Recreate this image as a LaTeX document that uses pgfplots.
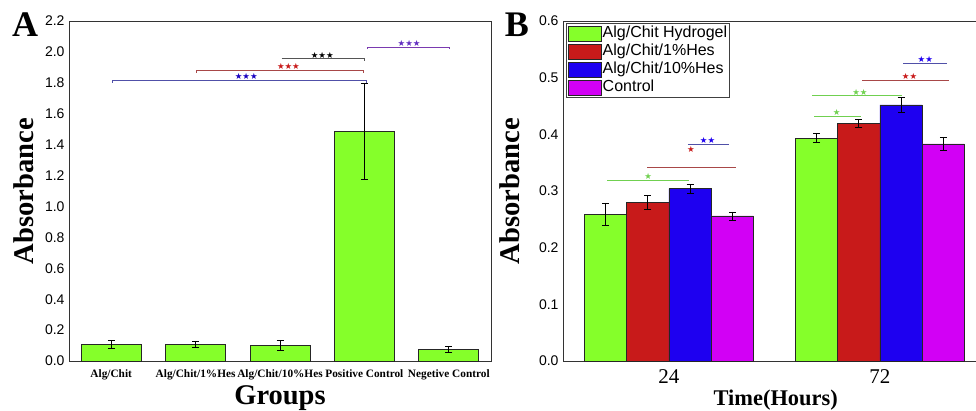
\documentclass[border=0pt]{standalone}
\usepackage{pgfplots}
\pgfplotsset{compat=1.18}
\usepackage{fontspec}
\setmainfont{Liberation Serif}
\setsansfont{Liberation Sans}
\newfontfamily\dejavu{DejaVu Sans}
\definecolor{cgreen}{HTML}{85FF2A}
\definecolor{cred}{HTML}{C81A1A}
\definecolor{cblue}{HTML}{1E00F0}
\definecolor{cmag}{HTML}{D200F5}
\definecolor{lblue}{HTML}{5050A8}
\definecolor{lred}{HTML}{A84848}
\definecolor{lgray}{HTML}{555555}
\definecolor{lpurple}{HTML}{7A3AB0}
\definecolor{lgreen}{HTML}{70D050}
\newcommand{\stars}[1]{{\dejavu\fontsize{8.5}{8.5}\selectfont #1}}
\pgfplotsset{errb/.style={error bars/.cd, y dir=both, y explicit,
  error bar style={line width=0.8pt, black},
  error mark options={rotate=90, line width=0.8pt, black, mark size=3.5pt}}}
\begin{document}
\begin{tikzpicture}
% ---------- Panel A ----------
\begin{axis}[
  at={(0pt,0pt)}, anchor=south west,
  scale only axis, width=422pt, height=340pt,
  xmin=-0.5, xmax=4.5, ymin=0, ymax=2.2,
  ytick={0,0.2,0.4,0.6,0.8,1.0,1.2,1.4,1.6,1.8,2.0,2.2},
  yticklabel style={/pgf/number format/fixed,/pgf/number format/precision=1,/pgf/number format/fixed zerofill,/pgf/number format/assume math mode=true,font=\sffamily\fontsize{14}{14}\selectfont, xshift=-1pt},
  xtick={0,1,2,3,4},
  xticklabels={Alg/Chit, Alg/Chit/1\%Hes, Alg/Chit/10\%Hes, Positive Control, Negetive Control},
  xticklabel style={font=\bfseries\fontsize{11.3}{11.3}\selectfont, yshift=-5pt},
  major tick length=0pt,
  axis line style={line width=0.8pt, black!80},
  xlabel={Groups},
  xlabel style={font=\bfseries\fontsize{28.5}{28.5}\selectfont, at={(axis description cs:0.5,0)}, anchor=north, yshift=-21pt},
  ylabel={Absorbance},
  ylabel style={font=\bfseries\fontsize{28.6}{28.6}\selectfont, at={(axis description cs:-0.108,0.5)}, anchor=center},
  clip=false,
]
\addplot[ybar, bar width=60pt, fill=cgreen, draw=black!85, line width=0.7pt, errb]
  coordinates {(0,0.108) +- (0,0.027) (1,0.108) +- (0,0.022) (2,0.100) +- (0,0.031) (3,1.484) +- (0,0.31) (4,0.076) +- (0,0.018)};
% significance brackets
\draw[lblue, line width=0.8pt] (axis cs:0.01,1.800) -- (axis cs:0.01,1.814) -- (axis cs:3.02,1.814) -- (axis cs:3.02,1.800);
\node[text=cblue!80!black, anchor=south, inner sep=0.5pt] at (axis cs:1.6,1.814) {\stars{★★★}};
\draw[lred, line width=0.8pt] (axis cs:1.01,1.866) -- (axis cs:1.01,1.880) -- (axis cs:2.99,1.880) -- (axis cs:2.99,1.866);
\node[text=cred, anchor=south, inner sep=0.5pt] at (axis cs:2.1,1.880) {\stars{★★★}};
\draw[lgray, line width=0.9pt] (axis cs:2.02,1.955) -- (axis cs:3.0,1.955) -- (axis cs:3.0,1.941);
\node[text=black, anchor=south, inner sep=0.5pt] at (axis cs:2.5,1.955) {\stars{★★★}};
\draw[lpurple, line width=0.8pt] (axis cs:3.03,2.018) -- (axis cs:3.03,2.032) -- (axis cs:4.01,2.032) -- (axis cs:4.01,2.018);
\node[text=lpurple!80!blue, anchor=south, inner sep=0.5pt] at (axis cs:3.53,2.032) {\stars{★★★}};
\node[font=\bfseries\fontsize{36}{36}\selectfont, anchor=base west, inner sep=0pt] at (axis description cs:-0.135,0.955) {A};
\end{axis}
% ---------- Panel B ----------
\begin{axis}[
  at={(494pt,0pt)}, anchor=south west,
  scale only axis, width=413pt, height=340pt,
  xmin=-0.502, xmax=1.455, ymin=0, ymax=0.6,
  axis x line=box, axis y line=left,
  axis line style={-, line width=0.8pt, black!80},
  ytick={0,0.1,0.2,0.3,0.4,0.5,0.6},
  yticklabel style={/pgf/number format/fixed,/pgf/number format/precision=1,/pgf/number format/fixed zerofill,/pgf/number format/assume math mode=true,font=\sffamily\fontsize{14}{14}\selectfont, xshift=-1pt},
  xtick={0,1}, xticklabels={24,72},
  xticklabel style={font=\fontsize{21}{21}\selectfont, yshift=-5pt},
  major tick length=0pt,
  xlabel={Time(Hours)},
  xlabel style={font=\bfseries\fontsize{22.4}{22.4}\selectfont, at={(axis description cs:0.515,0)}, anchor=north, yshift=-25pt},
  ylabel={Absorbance},
  ylabel style={font=\bfseries\fontsize{28.6}{28.6}\selectfont, at={(axis description cs:-0.128,0.5)}, anchor=center},
  ybar=0pt, bar width=42.2pt,
  clip=false,
  legend style={at={(axis description cs:0,1)}, anchor=north west, xshift=3pt, yshift=-2pt,
    draw=black!75, line width=1.2pt, font=\sffamily\fontsize{16}{16}\selectfont,
    inner sep=1pt, row sep=0pt,
    nodes={inner sep=1.5pt, text height=11.5pt, text depth=3.5pt, line width=0.6pt}},
  legend cell align=left,
  legend image code/.code={\draw[#1, line width=0.6pt] (0pt,-7.8pt) rectangle (33pt,7.8pt);},
]
\addplot[fill=cgreen, draw=black!85, line width=0.7pt, errb] coordinates {(0,0.259) +- (0,0.020) (1,0.393) +- (0,0.008)};
\addplot[fill=cred, draw=black!85, line width=0.7pt, errb] coordinates {(0,0.280) +- (0,0.012) (1,0.419) +- (0,0.007)};
\addplot[fill=cblue, draw=black!85, line width=0.7pt, errb] coordinates {(0,0.304) +- (0,0.008) (1,0.452) +- (0,0.013)};
\addplot[fill=cmag, draw=black!85, line width=0.7pt, errb] coordinates {(0,0.256) +- (0,0.007) (1,0.383) +- (0,0.012)};
\legend{Alg/Chit Hydrogel, Alg/Chit/1\%Hes, Alg/Chit/10\%Hes, Control}
% significance brackets 24 h
\draw[lgreen, line width=0.8pt] (axis cs:-0.292,0.319) -- (axis cs:0.095,0.319);
\node[text=lgreen, anchor=south, inner sep=0.5pt] at (axis cs:-0.098,0.319) {\stars{★}};
\draw[lred, line width=0.8pt] (axis cs:-0.102,0.342) -- (axis cs:0.316,0.342);
\node[text=cred, anchor=south, inner sep=0.5pt] at (axis cs:0.104,0.367) {\stars{★}};
\draw[lblue, line width=0.8pt] (axis cs:0.09,0.383) -- (axis cs:0.285,0.383);
\node[text=cblue, anchor=south, inner sep=0.5pt] at (axis cs:0.183,0.383) {\stars{★★}};
% significance brackets 72 h
\draw[lgreen, line width=0.8pt] (axis cs:0.689,0.432) -- (axis cs:0.91,0.432);
\node[text=lgreen, anchor=south, inner sep=0.5pt] at (axis cs:0.795,0.432) {\stars{★}};
\draw[lgreen, line width=0.8pt] (axis cs:0.677,0.468) -- (axis cs:1.104,0.468);
\node[text=lgreen, anchor=south, inner sep=0.5pt] at (axis cs:0.905,0.468) {\stars{★★}};
\draw[lred, line width=0.8pt] (axis cs:0.915,0.495) -- (axis cs:1.327,0.495);
\node[text=cred, anchor=south, inner sep=0.5pt] at (axis cs:1.14,0.495) {\stars{★★}};
\draw[lblue, line width=0.8pt] (axis cs:1.11,0.526) -- (axis cs:1.319,0.526);
\node[text=cblue, anchor=south, inner sep=0.5pt] at (axis cs:1.215,0.526) {\stars{★★}};
\node[font=\bfseries\fontsize{36}{36}\selectfont, anchor=base west, inner sep=0pt] at (axis description cs:-0.141,0.955) {B};
\end{axis}
\pgfresetboundingbox
\useasboundingbox (-69pt,-49pt) rectangle (907pt,361pt);
\end{tikzpicture}
\end{document}
